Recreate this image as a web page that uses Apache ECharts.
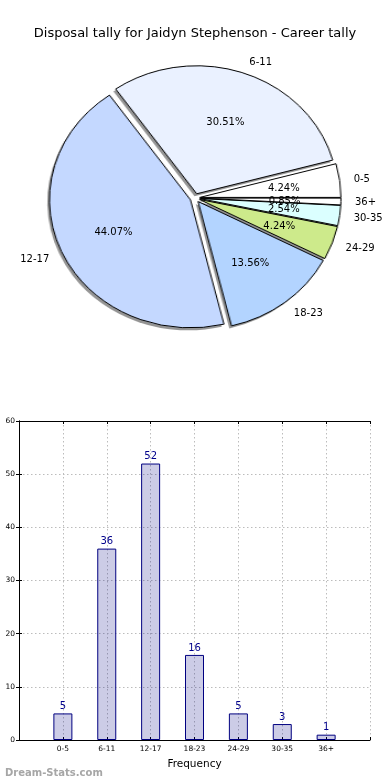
<!DOCTYPE html>
<html>
<head>
<meta charset="utf-8">
<script src="https://cdn.jsdelivr.net/npm/echarts@6/dist/echarts.min.js"></script>
<style>
html,body{margin:0;padding:0;background:#fff;}
#wrap{position:relative;width:390px;height:780px;overflow:hidden;}
#pieGfx{position:absolute;left:0;top:0;width:390px;height:400px;transform:scaleX(1.1016);transform-origin:195px 198px;}
#main{position:absolute;left:0;top:0;width:390px;height:780px;}
</style>
</head>
<body>
<div id="wrap">
  <div id="pieGfx"></div>
  <div id="main"></div>
</div>
<script>
// ---- data ----
const categories = ['0-5', '6-11', '12-17', '18-23', '24-29', '30-35', '36+'];
const tally = [5, 36, 52, 16, 5, 3, 1];
const pieColors = ['#ffffff', '#eaf1ff', '#c4d8ff', '#b3d4ff', '#cdea8b', '#dbffff', '#ffffff'];
const yTicks = { min: 0, max: 60, interval: 10 };
const titleText = 'Disposal tally for Jaidyn Stephenson - Career tally';

// ---- pie geometry (elliptical like the original) ----
const CX = 195, CY = 198, RY = 128, RX = 141, OFFSET = 4.5;
const LABEL_CY = CY + 1;
const EXPL = OFFSET / RY;
const total = tally.reduce((a, b) => a + b, 0);
const midAngles = [];
(function () {
  let cum = 0;
  tally.forEach(v => { midAngles.push((cum + v / 2) / total * 360); cum += v; });
})();

const FONT = 'DejaVu Sans';

// ---- pie graphics chart (scaled horizontally via CSS) ----
const pieGfxBase = {
  type: 'pie',
  center: [CX, CY],
  radius: RY,
  startAngle: 0,
  clockwise: false,
  selectedMode: 'multiple',
  selectedOffset: OFFSET,
  silent: true,
  label: { show: false },
  labelLine: { show: false },
  emphasis: { disabled: true }
};
const gfx = echarts.init(document.getElementById('pieGfx'), null, { renderer: 'canvas' });
gfx.setOption({
  animation: false,
  series: [
    // shadow layer (all shadows below all wedges)
    Object.assign({}, pieGfxBase, {
      name: 'shadow',
      itemStyle: {
        borderWidth: 0,
        shadowColor: 'rgba(0,0,0,0.42)',
        shadowOffsetX: -2,
        shadowOffsetY: 2.5,
        shadowBlur: 0
      },
      data: categories.map((c, i) => ({ name: c, value: tally[i], selected: true, itemStyle: { color: pieColors[i] } }))
    }),
    // wedge layer
    Object.assign({}, pieGfxBase, {
      name: 'wedges',
      itemStyle: { borderColor: '#000', borderWidth: 1 },
      data: categories.map((c, i) => ({ name: c, value: tally[i], selected: true, itemStyle: { color: pieColors[i] } }))
    })
  ]
});

// ---- main chart: title, pie labels, bar chart ----
function pctLayout(p) {
  const a = midAngles[p.dataIndex] * Math.PI / 180;
  const k = 0.6 + EXPL;
  return { x: CX + k * RX * Math.cos(a), y: LABEL_CY - k * RY * Math.sin(a), align: 'center', verticalAlign: 'middle', hideOverlap: false };
}
function catLayout(p) {
  const a = midAngles[p.dataIndex] * Math.PI / 180;
  const k = 1.1 + EXPL;
  const c = Math.cos(a);
  return { x: CX + k * RX * c, y: LABEL_CY - k * RY * Math.sin(a), align: c > 0 ? 'left' : 'right', verticalAlign: 'middle', hideOverlap: false };
}
const labelPieBase = {
  type: 'pie',
  center: [CX, CY],
  radius: RY,
  startAngle: 0,
  clockwise: false,
  silent: true,
  avoidLabelOverlap: false,
  emphasis: { disabled: true },
  labelLine: { show: false },
  itemStyle: { color: 'rgba(0,0,0,0)', borderWidth: 0 },
  data: categories.map((c, i) => ({ name: c, value: tally[i] }))
};

const gridLine = { show: true, lineStyle: { color: '#bcbcbc', width: 1, type: [1.5, 2.5] } };
const chart = echarts.init(document.getElementById('main'), null, { renderer: 'canvas' });
chart.setOption({
  animation: false,
  textStyle: { fontFamily: FONT },
  title: [
    { text: titleText, left: 'center', top: 22, textStyle: { fontFamily: FONT, fontSize: 13, fontWeight: 'normal', color: '#000' } },
    { text: 'Dream-Stats.com', left: 0, top: 763, textStyle: { fontFamily: FONT, fontSize: 10, fontWeight: 'bold', color: '#a6a6a6' } }
  ],
  grid: { left: 19, right: 20, top: 421, bottom: 40 },
  xAxis: [
    {
      type: 'value', min: 0, max: 8, interval: 1,
      axisLine: { show: true, onZero: false, lineStyle: { color: '#000', width: 1 } },
      axisTick: { show: true, inside: true, length: 3, lineStyle: { color: '#000' } },
      axisLabel: { formatter: v => categories[v - 1] || '', fontSize: 7.5, color: '#000', margin: 5, fontFamily: FONT },
      splitLine: gridLine,
      name: 'Frequency', nameLocation: 'middle', nameGap: 19,
      nameTextStyle: { fontSize: 10.5, color: '#000', fontFamily: FONT }
    },
    {
      type: 'value', position: 'top', min: 0, max: 8, interval: 1,
      axisLine: { show: true, onZero: false, lineStyle: { color: '#000', width: 1 } },
      axisTick: { show: true, inside: true, length: 3, lineStyle: { color: '#000' } },
      axisLabel: { show: false }, splitLine: { show: false }
    }
  ],
  yAxis: [
    {
      type: 'value', min: yTicks.min, max: yTicks.max, interval: yTicks.interval,
      axisLine: { show: true, lineStyle: { color: '#000', width: 1 } },
      axisTick: { show: true, inside: true, length: 3, lineStyle: { color: '#000' } },
      axisLabel: { fontSize: 7.5, color: '#000', margin: 4, fontFamily: FONT },
      splitLine: gridLine
    },
    {
      type: 'value', position: 'right', min: yTicks.min, max: yTicks.max, interval: yTicks.interval,
      axisLine: { show: true, lineStyle: { color: '#000', width: 1 } },
      axisTick: { show: true, inside: true, length: 3, lineStyle: { color: '#000' } },
      axisLabel: { show: false }, splitLine: { show: false }
    }
  ],
  series: [
    Object.assign({}, labelPieBase, {
      name: 'pct',
      label: {
        show: true, position: 'inside', color: '#000', fontSize: 10, fontFamily: FONT,
        formatter: p => (p.value / total * 100).toFixed(2) + '%'
      },
      labelLayout: pctLayout
    }),
    Object.assign({}, labelPieBase, {
      name: 'cat',
      label: { show: true, position: 'inside', formatter: '{b}', color: '#000', fontSize: 10, fontFamily: FONT },
      labelLayout: catLayout
    }),
    {
      type: 'bar', name: 'Frequency',
      xAxisIndex: 0, yAxisIndex: 0,
      barWidth: 19,
      data: tally.map((v, i) => [i + 1, v]),
      itemStyle: { color: 'rgba(0,0,128,0.2)', borderColor: '#000080', borderWidth: 1 },
      label: { show: true, position: 'top', distance: 2, color: '#00008b', fontSize: 10, fontFamily: FONT, formatter: p => p.value[1] },
      emphasis: { disabled: true }
    }
  ]
});
</script>
</body>
</html>
